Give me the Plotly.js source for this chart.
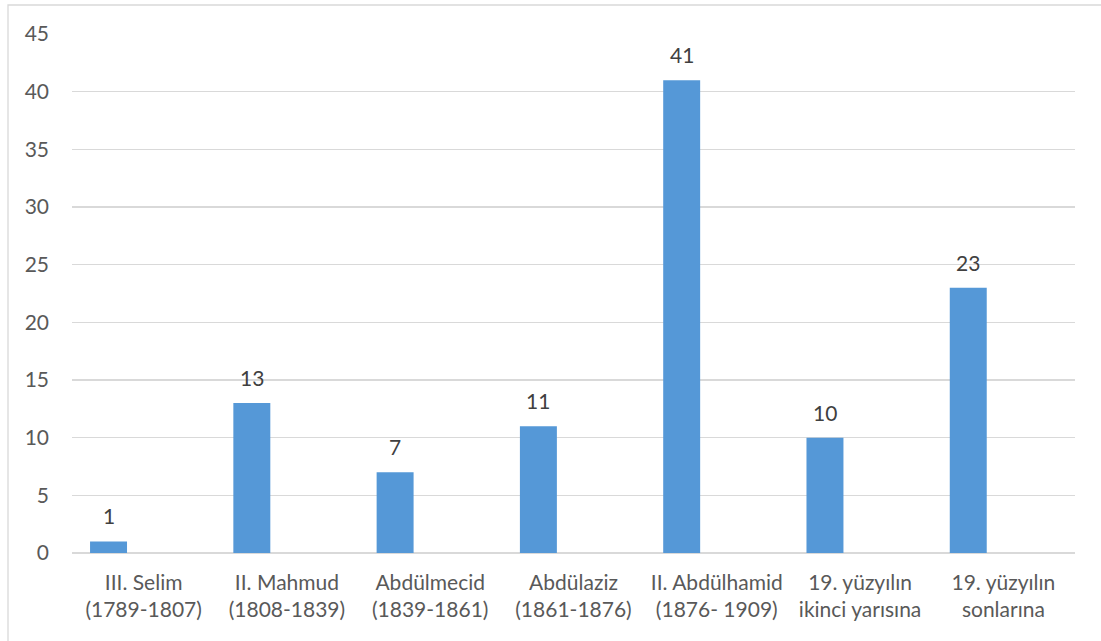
<!DOCTYPE html>
<html>
<head>
<meta charset="utf-8">
<script src="https://cdn.plot.ly/plotly-3.0.1.min.js"></script>
<style>
html,body{margin:0;padding:0;background:#fff;}
#chart{width:1101px;height:641px;}
</style>
</head>
<body>
<div id="chart"></div>
<script>
var categories = [
  "III. Selim<br>(1789-1807)",
  "II. Mahmud<br>(1808-1839)",
  "Abdülmecid<br>(1839-1861)",
  "Abdülaziz<br>(1861-1876)",
  "II. Abdülhamid<br>(1876- 1909)",
  "19. yüzyılın<br>ikinci yarısına",
  "19. yüzyılın<br>sonlarına"
];
var values = [1, 13, 7, 11, 41, 10, 23];
var yTicks = [0, 5, 10, 15, 20, 25, 30, 35, 40, 45];

var BAR_WIDTH = 0.258, BAR_OFFSET = -0.374;
var FONT = 'Lato, "Open Sans", sans-serif';

var trace = {
  type: 'bar',
  x: categories,
  y: values,
  width: BAR_WIDTH,
  offset: BAR_OFFSET,
  marker: {color: '#5598d7', line: {width: 0}},
  hoverinfo: 'x+y'
};

var annotations = values.map(function (v, i) {
  return {
    xref: 'x', yref: 'y',
    x: i + BAR_OFFSET + BAR_WIDTH / 2,
    y: v,
    text: String(v),
    showarrow: false,
    yanchor: 'bottom',
    yshift: 11,
    font: {family: FONT, size: 21, color: '#404040'}
  };
});

var layout = {
  width: 1101,
  height: 641,
  margin: {l: 72, r: 26, t: 34, b: 88},
  paper_bgcolor: '#ffffff',
  plot_bgcolor: '#ffffff',
  showlegend: false,
  font: {family: FONT, size: 21, color: '#595959'},
  xaxis: {
    type: 'category',
    showgrid: false,
    showline: false,
    zeroline: false,
    ticks: '',
    ticklabelstandoff: 15,
    tickfont: {size: 21, color: '#595959'}
  },
  yaxis: {
    range: [0, 45],
    tickvals: yTicks,
    ticktext: yTicks.map(String),
    showgrid: true,
    gridcolor: '#d9d9d9',
    gridwidth: 1.3,
    zeroline: true,
    zerolinecolor: '#d9d9d9',
    zerolinewidth: 1.3,
    showline: false,
    ticks: '',
    ticklabelstandoff: 22,
    tickfont: {size: 21, color: '#595959'}
  },
  annotations: annotations,
  shapes: [{
    type: 'rect',
    xref: 'paper', yref: 'paper',
    x0: (8 - 72) / 1003, x1: (1110 - 72) / 1003,
    y0: -(650 - 553) / 519, y1: (553 - 5) / 519,
    line: {color: '#d9d9d9', width: 1.3},
    fillcolor: 'rgba(0,0,0,0)',
    layer: 'below'
  }]
};

Plotly.newPlot('chart', [trace], layout, {displayModeBar: false, staticPlot: true});
</script>
</body>
</html>
